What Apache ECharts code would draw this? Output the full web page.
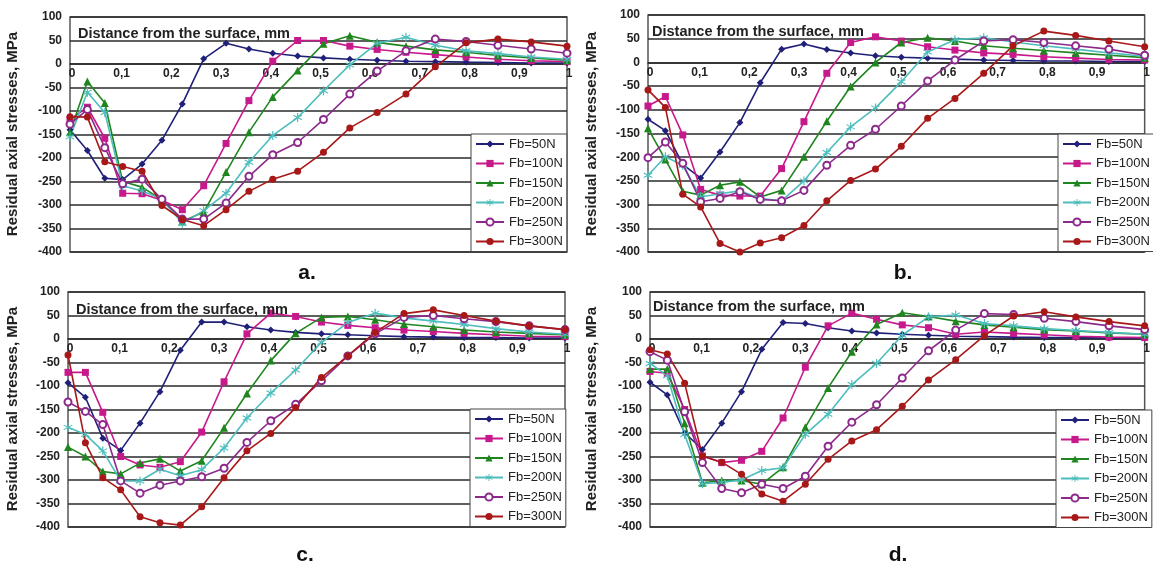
<!DOCTYPE html>
<html>
<head>
<meta charset="utf-8">
<script src="https://cdn.jsdelivr.net/npm/echarts@6/dist/echarts.min.js"></script>
<style>
html,body{margin:0;padding:0;background:#fff;}
#chart{width:1153px;height:566px;}
</style>
</head>
<body>
<div id="chart"></div>
<script>
// ---------- DATA ----------
const DEPTH = [0, 0.035, 0.07, 0.106, 0.145, 0.185, 0.226, 0.269, 0.314, 0.36, 0.408, 0.458, 0.51, 0.563, 0.618, 0.676, 0.735, 0.797, 0.861, 0.928, 1.0];
const SERIES_NAMES = ['Fb=50N', 'Fb=100N', 'Fb=150N', 'Fb=200N', 'Fb=250N', 'Fb=300N'];
const PANEL_LABELS = ['a.', 'b.', 'c.', 'd.'];
const X_TICK_LABELS = ['0', '0,1', '0,2', '0,3', '0,4', '0,5', '0,6', '0,7', '0,8', '0,9', '1'];
const Y_TICKS = [100, 50, 0, -50, -100, -150, -200, -250, -300, -350, -400];
const X_TITLE = 'Distance from the surface, mm';
const Y_TITLE = 'Residual axial stresses, MPa';

// panel a
const a50  = [-140, -184, -243, -246, -213, -162, -85, 11, 44, 32, 23, 17, 13, 10, 8, 6, 5, 4, 3, 2, 2];
const a100 = [-118, -92, -158, -275, -276, -290, -310, -259, -169, -78, 6, 50, 50, 38, 31, 25, 20, 15, 10, 7, 5];
const a150 = [-145, -37, -83, -250, -262, -289, -335, -315, -230, -145, -70, -14, 43, 60, 46, 38, 30, 25, 18, 13, 8];
const a200 = [-155, -60, -103, -259, -270, -287, -339, -312, -275, -209, -152, -114, -57, -2, 44, 57, 40, 28, 22, 15, 10];
const a250 = [-128, -97, -178, -255, -245, -288, -330, -330, -296, -239, -193, -167, -118, -64, -15, 28, 53, 48, 40, 32, 23];
const a300 = [-112, -113, -208, -218, -228, -301, -331, -344, -310, -271, -245, -228, -188, -136, -103, -64, -6, 45, 53, 47, 38];
// panel b
const b50  = [-120, -144, -215, -244, -189, -127, -43, 28, 39, 27, 20, 14, 11, 9, 7, 5, 4, 3, 3, 2, 2];
const b100 = [-92, -72, -153, -268, -280, -282, -282, -224, -125, -23, 42, 54, 45, 33, 26, 20, 17, 12, 9, 6, 5];
const b150 = [-139, -205, -272, -280, -259, -252, -284, -270, -199, -124, -51, 0, 42, 52, 45, 35, 30, 25, 20, 15, 10];
const b200 = [-238, -199, -217, -284, -277, -271, -287, -292, -250, -190, -136, -96, -41, 22, 48, 52, 43, 35, 28, 20, 13];
const b250 = [-201, -168, -213, -294, -287, -273, -289, -292, -270, -217, -175, -141, -92, -39, 5, 45, 48, 42, 35, 28, 15];
const b300 = [-58, -95, -278, -305, -382, -400, -381, -370, -344, -292, -249, -225, -177, -118, -76, -23, 35, 66, 57, 45, 33];
// panel c
const c50  = [-93, -124, -211, -237, -179, -112, -24, 36, 36, 26, 19, 14, 11, 9, 7, 5, 4, 3, 3, 2, 2];
const c100 = [-71, -71, -156, -250, -268, -273, -261, -198, -91, 11, 55, 48, 36, 29, 24, 19, 16, 12, 9, 6, 5];
const c150 = [-230, -250, -282, -287, -264, -255, -281, -259, -189, -116, -46, 12, 46, 48, 41, 32, 26, 19, 15, 12, 9];
const c200 = [-188, -203, -238, -302, -302, -277, -291, -278, -232, -168, -115, -66, -7, 35, 55, 45, 38, 31, 22, 15, 10];
const c250 = [-134, -154, -182, -302, -328, -311, -302, -293, -275, -220, -174, -139, -89, -36, 11, 46, 50, 43, 37, 28, 20];
const c300 = [-34, -221, -295, -321, -378, -391, -396, -357, -295, -238, -201, -146, -82, -36, 14, 54, 62, 50, 38, 28, 20];
// panel d
const d50  = [-92, -119, -200, -235, -179, -112, -22, 35, 33, 24, 17, 13, 10, 8, 6, 5, 4, 3, 3, 2, 2];
const d100 = [-69, -73, -150, -249, -263, -258, -239, -168, -60, 28, 55, 42, 30, 24, 10, 15, 12, 9, 6, 4, 3];
const d150 = [-64, -64, -179, -306, -301, -301, -309, -273, -188, -104, -27, 31, 56, 48, 38, 30, 25, 20, 17, 13, 10];
const d200 = [-52, -78, -203, -308, -305, -300, -280, -274, -203, -160, -97, -52, 8, 47, 51, 33, 28, 22, 18, 14, 10];
const d250 = [-27, -45, -155, -263, -318, -327, -309, -318, -292, -228, -177, -140, -83, -25, 19, 54, 52, 44, 37, 28, 20];
const d300 = [-23, -32, -94, -249, -262, -288, -330, -345, -309, -256, -217, -193, -143, -87, -44, 7, 49, 58, 47, 37, 28];

const PANELS = [
  [a50, a100, a150, a200, a250, a300],
  [b50, b100, b150, b200, b250, b300],
  [c50, c100, c150, c200, c250, c300],
  [d50, d100, d150, d200, d250, d300]
];

// ---------- STYLE / LAYOUT ----------
const FONT = '"Liberation Sans", Arial, sans-serif';
const STAR = 'path://M-0.6,-5L0.6,-5L0.6,5L-0.6,5Z' +
  'M-4.6,-1.98L-4.0,-3.02L4.6,1.98L4.0,3.02Z' +
  'M4.0,-3.02L4.6,-1.98L-4.0,3.02L-4.6,1.98Z';
const STYLES = [
  {color: '#202078', symbol: 'diamond', size: 7},
  {color: '#c8198c', symbol: 'rect', size: 7},
  {color: '#1f861f', symbol: 'triangle', size: 8},
  {color: '#4dbdbd', symbol: STAR, size: 9},
  {color: '#8c2a8c', symbol: 'emptyCircle', size: 7},
  {color: '#a81818', symbol: 'circle', size: 7}
];
const GRIDS = [
  {left: 70, top: 17, width: 497, height: 235},
  {left: 648, top: 15, width: 504, height: 237},
  {left: 68, top: 292, width: 497, height: 235},
  {left: 650, top: 292, width: 502, height: 235}
];
const LEGEND_POS = [
  {left: 471, top: 134},
  {left: 1058, top: 134},
  {left: 470, top: 409},
  {left: 1056, top: 410}
];
const YTITLE_POS = [[13, 134], [592, 134], [13, 409], [592, 409]];
const XTITLE_POS = [[78, 26], [652, 24.5], [76, 302], [653, 299]];
const LABEL_POS = [[307, 273], [903, 273], [305, 555], [898, 555]];

const yMin = Y_TICKS[Y_TICKS.length - 1], yMax = Y_TICKS[0];

const option = {
  backgroundColor: '#fff',
  animation: false,
  grid: GRIDS.map(g => Object.assign({show: true, backgroundColor: '#fff', borderColor: '#555', borderWidth: 1.5}, g)),
  xAxis: GRIDS.map((g, i) => ({
    type: 'value', gridIndex: i, min: 0, max: 1, interval: 0.1,
    position: 'bottom',
    // place the axis (line + labels) at the zero stress level
    offset: -g.height * (0 - yMin) / (yMax - yMin),
    axisLine: {show: true, onZero: false, lineStyle: {color: '#2a2a2a', width: 1.5}},
    axisTick: {show: false},
    splitLine: {show: false},
    axisLabel: {
      formatter: v => X_TICK_LABELS[Math.round(v * 10)],
      fontFamily: FONT, fontWeight: 'bold', fontSize: 12, color: '#222', margin: 4,
      padding: [0, 0, 0, 4],
      showMinLabel: true, showMaxLabel: true
    }
  })),
  yAxis: GRIDS.map((g, i) => ({
    type: 'value', gridIndex: i, min: yMin, max: yMax, interval: 50,
    axisLine: {show: false},
    axisTick: {show: false},
    splitLine: {show: true, lineStyle: {color: '#2a2a2a', width: 1.5}},
    axisLabel: {fontFamily: FONT, fontWeight: 'bold', fontSize: 12, color: '#222', margin: 8}
  })),
  legend: LEGEND_POS.map(p => ({
    left: p.left, top: p.top, orient: 'vertical',
    itemWidth: 28, itemHeight: 9, itemGap: 5.5, padding: [3, 4, 3, 4],
    backgroundColor: '#fff', borderColor: '#444', borderWidth: 1,
    textStyle: {fontFamily: FONT, fontSize: 13, color: '#222', lineHeight: 14},
    data: SERIES_NAMES, selectedMode: false, z: 10
  })),
  series: [],
  graphic: []
};

PANELS.forEach((panel, p) => {
  panel.forEach((vals, s) => {
    const st = STYLES[s];
    option.series.push({
      type: 'line', name: SERIES_NAMES[s], xAxisIndex: p, yAxisIndex: p,
      data: DEPTH.map((x, j) => [x, vals[j]]),
      symbol: st.symbol, symbolSize: st.size, showAllSymbol: true,
      clip: false,
      lineStyle: {color: st.color, width: 1.6},
      itemStyle: {color: st.color, borderColor: st.color, borderWidth: st.symbol === 'emptyCircle' ? 1.3 : 0}
    });
  });
  option.graphic.push({
    type: 'text', x: YTITLE_POS[p][0], y: YTITLE_POS[p][1], rotation: Math.PI / 2, z: 20,
    style: {text: Y_TITLE, fontFamily: FONT, fontWeight: 'bold', fontSize: 15, fill: '#222',
            align: 'center', verticalAlign: 'middle', textAlign: 'center', textVerticalAlign: 'middle'}
  });
  option.graphic.push({
    type: 'text', x: XTITLE_POS[p][0], y: XTITLE_POS[p][1], z: 20,
    style: {text: X_TITLE, fontFamily: FONT, fontWeight: 'bold', fontSize: 14.5, fill: '#222',
            align: 'left', verticalAlign: 'top', textAlign: 'left', textVerticalAlign: 'top'}
  });
  option.graphic.push({
    type: 'text', x: LABEL_POS[p][0], y: LABEL_POS[p][1], z: 20,
    style: {text: PANEL_LABELS[p], fontFamily: FONT, fontWeight: 'bold', fontSize: 21, fill: '#111',
            align: 'center', verticalAlign: 'middle', textAlign: 'center', textVerticalAlign: 'middle'}
  });
});

const chart = echarts.init(document.getElementById('chart'), null, {renderer: 'canvas'});
chart.setOption(option);
</script>
</body>
</html>
